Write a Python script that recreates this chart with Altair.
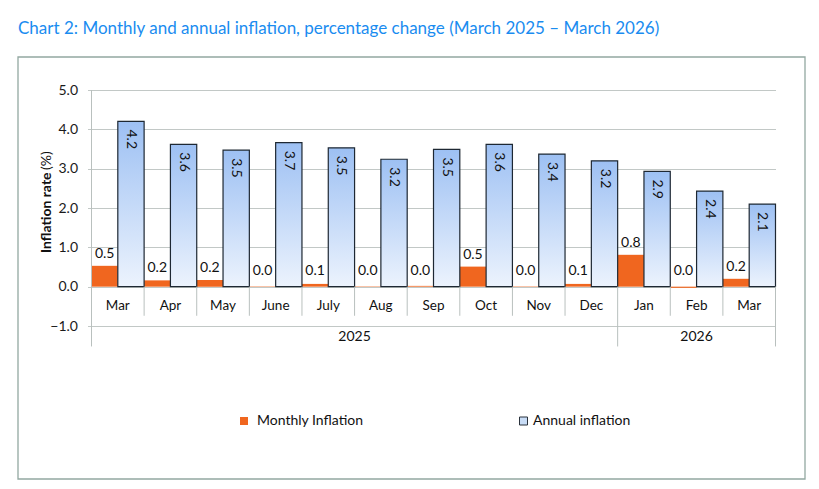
import altair as alt
import pandas as pd

# ---- data ----
months = ["Mar", "Apr", "May", "June", "July", "Aug", "Sep", "Oct", "Nov", "Dec", "Jan", "Feb", "Mar"]
years = [2025] * 10 + [2026] * 3
monthly = [0.53, 0.16, 0.17, 0.01, 0.07, 0.01, 0.02, 0.51, 0.01, 0.07, 0.81, -0.03, 0.20]
annual = [4.20, 3.62, 3.47, 3.66, 3.53, 3.24, 3.49, 3.62, 3.37, 3.20, 2.93, 2.43, 2.10]
series = ["Monthly Inflation", "Annual inflation"]
y_ticks = [-1, 0, 1, 2, 3, 4, 5]

FONT = "Lato"
ORANGE = "#f0661f"
GRID = "#c2c8c6"
SEP = "#b9c0be"

n = len(months)
df = pd.DataFrame({"i": list(range(n)), "month": months, "year": [str(y) for y in years],
                   "monthly": monthly, "annual": annual})
df["mlabel"] = [f"{round(v, 1) + 0:.1f}" for v in monthly]
df["alabel"] = [f"{v:.1f}" for v in annual]

xscale = alt.Scale(domain=[0, n], nice=False, zero=False)
yscale = alt.Scale(domain=[-1, 5], nice=False, zero=False)

yaxis = alt.Axis(values=y_ticks, format=".1f", grid=True, gridColor=GRID, gridWidth=1,
                 domain=False, ticks=True, tickColor=GRID, tickSize=4,
                 labelFont=FONT, labelFontSize=14, labelColor="#1a1a1a",
                 labelPadding=10, title=None)


def X(f):
    return alt.X(f, type="quantitative", scale=xscale, axis=None)


def Y(f):
    return alt.Y(f, type="quantitative", scale=yscale, axis=yaxis)


base = alt.Chart(df).transform_calculate(
    xm0="datum.i", xm1="datum.i + 0.5", xa1="datum.i + 1",
    xmc="datum.i + 0.25", xac="datum.i + 0.75", xc="datum.i + 0.5",
    zero="0", ly="max(datum.monthly, 0.1)",
    mrow="-0.5", yrow="-1.27", sepb="datum.i == 10 ? -1.52 : -0.74",
)

monthly_bars = base.mark_bar(color=ORANGE).encode(
    x=X("xm0"), x2="xm1:Q", y=Y("monthly"), y2="zero:Q",
)

grad = alt.LinearGradient(
    gradient="linear",
    stops=[alt.GradientStop(color="#9dc0f3", offset=0),
           alt.GradientStop(color="#ecf3fd", offset=1)],
    x1=0, x2=0, y1=0, y2=1,
)
annual_bars = base.mark_bar(fill=grad, stroke="#1e2833", strokeWidth=1.2).encode(
    x=X("xm1"), x2="xa1:Q", y=Y("annual"), y2="zero:Q",
)

monthly_text = base.mark_text(font=FONT, fontSize=14, baseline="bottom", dy=-5, color="#111").encode(
    x=X("xmc"), y=Y("ly"), text="mlabel:N",
)

annual_text = base.mark_text(
    font=FONT, fontSize=14, angle=90, align="left", baseline="middle", dx=8, color="#111"
).encode(
    x=X("xac"), y=Y("annual"), text="alabel:N",
)

month_text = base.mark_text(font=FONT, fontSize=13.5, color="#111").encode(
    x=X("xc"), y=Y("mrow"), text="month:N",
)

separators = base.transform_filter("datum.i > 0").mark_rule(color=SEP, strokeWidth=1).encode(
    x=X("xm0"), y=Y("zero"), y2="sepb:Q",
)
edges = base.transform_filter("datum.i == 0").transform_calculate(
    e0="0", e1=str(n), top="5", bot="-1.52"
)
left_axis = edges.mark_rule(color=SEP, strokeWidth=1).encode(
    x=X("e0"), y=Y("top"), y2="bot:Q",
)
right_edge = edges.mark_rule(color=SEP, strokeWidth=1).encode(
    x=X("e1"), y=Y("zero"), y2="bot:Q",
)

# year row: centred under the months of each year
year_text = base.mark_text(font=FONT, fontSize=14, color="#111").encode(
    x=alt.X("mean(xc):Q", scale=xscale, axis=None),
    y=alt.Y("mean(yrow):Q", scale=yscale, axis=yaxis),
    text="year:N",
)

one = pd.DataFrame({"a": [0]})

frame = alt.Chart(one).mark_rect(fill="transparent", stroke="#93a8a1", strokeWidth=1.3).encode(
    x=alt.value(-73.5), x2=alt.value(713.5), y=alt.value(-33), y2=alt.value(389),
)

title = alt.Chart(one).mark_text(
    text="Chart 2: Monthly and annual inflation, percentage change (March 2025 \u2013 March 2026)",
    font=FONT, fontSize=17, color="#1a8cf0", align="left", baseline="alphabetic",
).encode(x=alt.value(-73.5), y=alt.value(-56))

ytitle_a = alt.Chart(one).mark_text(
    text="Inflation rate", font=FONT, fontSize=14, fontWeight="bold", angle=270,
    align="left", baseline="middle", color="#111",
).encode(x=alt.value(-44.5), y=alt.value(163))
ytitle_b = alt.Chart(one).mark_text(
    text="(%)", font=FONT, fontSize=14, angle=270,
    align="left", baseline="middle", color="#111",
).encode(x=alt.value(-44.5), y=alt.value(80))

# legend
leg_m_sym = alt.Chart(one).mark_square(size=64, color=ORANGE, opacity=1).encode(
    x=alt.value(152.5), y=alt.value(331))
leg_m_txt = alt.Chart(one).mark_text(
    text=series[0], font=FONT, fontSize=14, align="left", baseline="middle", color="#111"
).encode(x=alt.value(165.5), y=alt.value(331))
leg_a_sym = alt.Chart(one).mark_square(size=64, fill="#c8dcf6", stroke="#2a323c",
                                       strokeWidth=1, opacity=1).encode(
    x=alt.value(432), y=alt.value(331))
leg_a_txt = alt.Chart(one).mark_text(
    text=series[1], font=FONT, fontSize=14, align="left", baseline="middle", color="#111"
).encode(x=alt.value(441.5), y=alt.value(331))

chart = alt.layer(
    frame, monthly_bars, annual_bars, separators, right_edge, left_axis,
    monthly_text, annual_text, month_text, year_text,
    title, ytitle_a, ytitle_b, leg_m_sym, leg_m_txt, leg_a_sym, leg_a_txt,
).properties(
    width=684, height=236,
    padding={"left": 83.5, "top": 82, "right": 31, "bottom": 154},
    autosize=alt.AutoSizeParams(type="none"),
).configure_view(stroke=None)

chart.save("out.html", embed_options={"renderer": "svg", "actions": False})
